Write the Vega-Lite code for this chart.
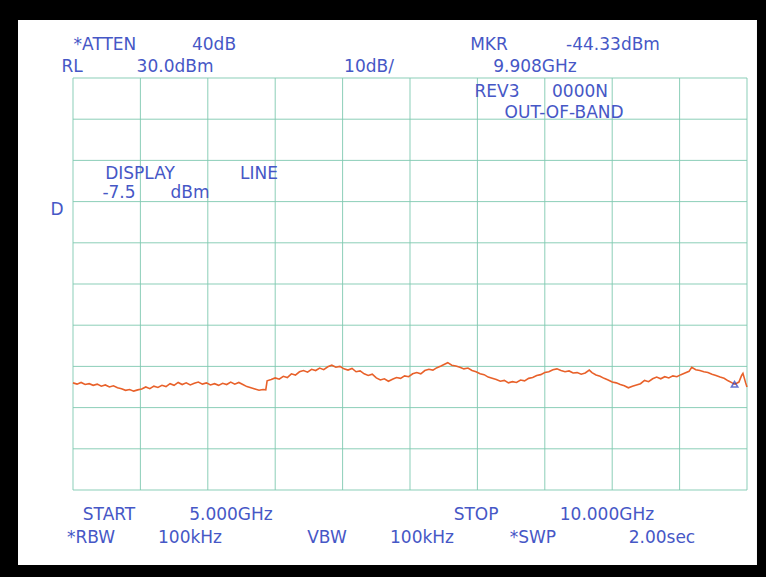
{
  "$schema": "https://vega.github.io/schema/vega-lite/v6.json",
  "width": 674,
  "height": 412,
  "autosize": {"type": "none"},
  "padding": {"left": 73, "top": 78, "right": 19, "bottom": 87},
  "background": "#000000",
  "config": {
    "view": {"stroke": null}
  },
  "datasets": {
    "frame": [{"x1": 4.592, "x2": 10.074, "y1": 44.1, "y2": -88.2}],
    "marker": [{"freq": 9.908, "dbm": -44.33}],
    "labels": [
      {"t": "*ATTEN", "freq": 5.237, "dbm": 38.0},
      {"t": "40dB", "freq": 6.046, "dbm": 38.0},
      {"t": "MKR", "freq": 8.086, "dbm": 38.0},
      {"t": "-44.33dBm", "freq": 9.006, "dbm": 38.0},
      {"t": "RL", "freq": 4.993, "dbm": 32.67},
      {"t": "30.0dBm", "freq": 5.757, "dbm": 32.67},
      {"t": "10dB/", "freq": 7.196, "dbm": 32.67},
      {"t": "9.908GHz", "freq": 8.427, "dbm": 32.67},
      {"t": "REV3", "freq": 8.145, "dbm": 26.6},
      {"t": "0000N", "freq": 8.761, "dbm": 26.6},
      {"t": "OUT-OF-BAND", "freq": 8.643, "dbm": 21.5},
      {"t": "DISPLAY", "freq": 5.497, "dbm": 6.7},
      {"t": "LINE", "freq": 6.38, "dbm": 6.7},
      {"t": "-7.5", "freq": 5.341, "dbm": 2.09},
      {"t": "dBm", "freq": 5.868, "dbm": 2.09},
      {"t": "D", "freq": 4.881, "dbm": -2.04},
      {"t": "START", "freq": 5.267, "dbm": -76.07},
      {"t": "5.000GHz", "freq": 6.172, "dbm": -76.07},
      {"t": "STOP", "freq": 7.99, "dbm": -76.07},
      {"t": "10.000GHz", "freq": 8.961, "dbm": -76.07},
      {"t": "*RBW", "freq": 5.134, "dbm": -81.65},
      {"t": "100kHz", "freq": 5.868, "dbm": -81.65},
      {"t": "VBW", "freq": 6.884, "dbm": -81.65},
      {"t": "100kHz", "freq": 7.589, "dbm": -81.65},
      {"t": "*SWP", "freq": 8.412, "dbm": -81.65},
      {"t": "2.00sec", "freq": 9.369, "dbm": -81.65}
    ],
    "gridx": [{"v": 5}, {"v": 5.5}, {"v": 6}, {"v": 6.5}, {"v": 7}, {"v": 7.5}, {"v": 8}, {"v": 8.5}, {"v": 9}, {"v": 9.5}, {"v": 10}],
    "gridy": [{"v": -70}, {"v": -60}, {"v": -50}, {"v": -40}, {"v": -30}, {"v": -20}, {"v": -10}, {"v": 0}, {"v": 10}, {"v": 20}, {"v": 30}],
    "trace": [
      {"freq": 5.00, "dbm": -44.0}, {"freq": 5.03, "dbm": -44.3}, {"freq": 5.06, "dbm": -43.9}, {"freq": 5.09, "dbm": -44.4},
      {"freq": 5.12, "dbm": -44.2}, {"freq": 5.15, "dbm": -44.6}, {"freq": 5.18, "dbm": -44.3}, {"freq": 5.21, "dbm": -44.8},
      {"freq": 5.24, "dbm": -44.5}, {"freq": 5.27, "dbm": -45.0}, {"freq": 5.30, "dbm": -44.7}, {"freq": 5.33, "dbm": -45.2},
      {"freq": 5.36, "dbm": -45.4}, {"freq": 5.39, "dbm": -45.8}, {"freq": 5.42, "dbm": -45.6}, {"freq": 5.45, "dbm": -46.0},
      {"freq": 5.48, "dbm": -45.7}, {"freq": 5.51, "dbm": -45.5}, {"freq": 5.54, "dbm": -45.0}, {"freq": 5.57, "dbm": -45.4},
      {"freq": 5.60, "dbm": -44.8}, {"freq": 5.63, "dbm": -45.1}, {"freq": 5.66, "dbm": -44.6}, {"freq": 5.69, "dbm": -44.9},
      {"freq": 5.72, "dbm": -44.2}, {"freq": 5.75, "dbm": -44.6}, {"freq": 5.78, "dbm": -43.9}, {"freq": 5.81, "dbm": -44.4},
      {"freq": 5.84, "dbm": -44.0}, {"freq": 5.87, "dbm": -44.5}, {"freq": 5.90, "dbm": -44.1}, {"freq": 5.93, "dbm": -43.8},
      {"freq": 5.96, "dbm": -44.3}, {"freq": 5.99, "dbm": -44.0}, {"freq": 6.02, "dbm": -44.5}, {"freq": 6.05, "dbm": -44.2},
      {"freq": 6.08, "dbm": -44.6}, {"freq": 6.11, "dbm": -44.1}, {"freq": 6.14, "dbm": -44.4}, {"freq": 6.17, "dbm": -43.8},
      {"freq": 6.20, "dbm": -44.3}, {"freq": 6.23, "dbm": -43.9}, {"freq": 6.26, "dbm": -44.4}, {"freq": 6.29, "dbm": -44.9},
      {"freq": 6.32, "dbm": -45.2}, {"freq": 6.35, "dbm": -45.5}, {"freq": 6.38, "dbm": -45.8}, {"freq": 6.41, "dbm": -45.6},
      {"freq": 6.43, "dbm": -45.7}, {"freq": 6.44, "dbm": -43.5}, {"freq": 6.47, "dbm": -43.2}, {"freq": 6.50, "dbm": -42.8},
      {"freq": 6.53, "dbm": -43.1}, {"freq": 6.56, "dbm": -42.4}, {"freq": 6.59, "dbm": -42.7}, {"freq": 6.62, "dbm": -41.8},
      {"freq": 6.65, "dbm": -42.1}, {"freq": 6.68, "dbm": -41.3}, {"freq": 6.71, "dbm": -41.0}, {"freq": 6.74, "dbm": -41.4},
      {"freq": 6.77, "dbm": -40.7}, {"freq": 6.80, "dbm": -41.0}, {"freq": 6.83, "dbm": -40.4}, {"freq": 6.86, "dbm": -40.8},
      {"freq": 6.89, "dbm": -40.1}, {"freq": 6.92, "dbm": -39.7}, {"freq": 6.95, "dbm": -40.2}, {"freq": 6.98, "dbm": -40.0},
      {"freq": 7.01, "dbm": -40.6}, {"freq": 7.04, "dbm": -40.9}, {"freq": 7.07, "dbm": -40.5}, {"freq": 7.10, "dbm": -41.3},
      {"freq": 7.13, "dbm": -41.1}, {"freq": 7.16, "dbm": -41.8}, {"freq": 7.19, "dbm": -42.2}, {"freq": 7.22, "dbm": -41.9},
      {"freq": 7.25, "dbm": -42.8}, {"freq": 7.28, "dbm": -43.3}, {"freq": 7.31, "dbm": -43.0}, {"freq": 7.34, "dbm": -43.6},
      {"freq": 7.37, "dbm": -43.1}, {"freq": 7.40, "dbm": -42.7}, {"freq": 7.43, "dbm": -42.9}, {"freq": 7.46, "dbm": -42.3},
      {"freq": 7.49, "dbm": -42.5}, {"freq": 7.52, "dbm": -41.8}, {"freq": 7.55, "dbm": -41.5}, {"freq": 7.58, "dbm": -41.8},
      {"freq": 7.61, "dbm": -41.0}, {"freq": 7.64, "dbm": -40.7}, {"freq": 7.67, "dbm": -40.9}, {"freq": 7.70, "dbm": -40.3},
      {"freq": 7.73, "dbm": -39.9}, {"freq": 7.76, "dbm": -39.4}, {"freq": 7.78, "dbm": -39.1}, {"freq": 7.81, "dbm": -39.7},
      {"freq": 7.84, "dbm": -39.9}, {"freq": 7.87, "dbm": -40.2}, {"freq": 7.90, "dbm": -40.6}, {"freq": 7.93, "dbm": -40.4},
      {"freq": 7.96, "dbm": -41.0}, {"freq": 7.99, "dbm": -41.3}, {"freq": 8.02, "dbm": -41.8}, {"freq": 8.05, "dbm": -42.0},
      {"freq": 8.08, "dbm": -42.6}, {"freq": 8.11, "dbm": -42.9}, {"freq": 8.14, "dbm": -43.2}, {"freq": 8.17, "dbm": -43.6},
      {"freq": 8.20, "dbm": -43.4}, {"freq": 8.23, "dbm": -44.0}, {"freq": 8.26, "dbm": -43.7}, {"freq": 8.29, "dbm": -43.9},
      {"freq": 8.32, "dbm": -43.3}, {"freq": 8.35, "dbm": -43.5}, {"freq": 8.38, "dbm": -42.9}, {"freq": 8.41, "dbm": -42.7},
      {"freq": 8.44, "dbm": -42.2}, {"freq": 8.47, "dbm": -42.0}, {"freq": 8.50, "dbm": -41.5}, {"freq": 8.53, "dbm": -41.3},
      {"freq": 8.56, "dbm": -40.8}, {"freq": 8.59, "dbm": -40.6}, {"freq": 8.62, "dbm": -41.0}, {"freq": 8.65, "dbm": -41.3},
      {"freq": 8.68, "dbm": -41.1}, {"freq": 8.71, "dbm": -41.6}, {"freq": 8.74, "dbm": -41.5}, {"freq": 8.77, "dbm": -41.9},
      {"freq": 8.80, "dbm": -41.6}, {"freq": 8.83, "dbm": -40.9}, {"freq": 8.85, "dbm": -41.5}, {"freq": 8.88, "dbm": -42.1},
      {"freq": 8.91, "dbm": -42.4}, {"freq": 8.94, "dbm": -42.9}, {"freq": 8.97, "dbm": -43.3}, {"freq": 9.00, "dbm": -43.8},
      {"freq": 9.03, "dbm": -44.0}, {"freq": 9.06, "dbm": -44.4}, {"freq": 9.09, "dbm": -44.7}, {"freq": 9.12, "dbm": -45.2},
      {"freq": 9.15, "dbm": -44.8}, {"freq": 9.18, "dbm": -44.5}, {"freq": 9.21, "dbm": -44.2}, {"freq": 9.24, "dbm": -43.4},
      {"freq": 9.27, "dbm": -43.7}, {"freq": 9.30, "dbm": -43.0}, {"freq": 9.33, "dbm": -42.6}, {"freq": 9.36, "dbm": -43.0},
      {"freq": 9.39, "dbm": -42.5}, {"freq": 9.42, "dbm": -42.8}, {"freq": 9.45, "dbm": -42.3}, {"freq": 9.48, "dbm": -42.5},
      {"freq": 9.51, "dbm": -42.0}, {"freq": 9.54, "dbm": -41.6}, {"freq": 9.57, "dbm": -41.2}, {"freq": 9.59, "dbm": -40.2},
      {"freq": 9.62, "dbm": -40.8}, {"freq": 9.65, "dbm": -41.0}, {"freq": 9.68, "dbm": -41.3}, {"freq": 9.71, "dbm": -41.5},
      {"freq": 9.74, "dbm": -41.9}, {"freq": 9.77, "dbm": -42.2}, {"freq": 9.80, "dbm": -42.6}, {"freq": 9.83, "dbm": -42.9},
      {"freq": 9.86, "dbm": -43.5}, {"freq": 9.89, "dbm": -44.0}, {"freq": 9.91, "dbm": -44.3}, {"freq": 9.94, "dbm": -43.8},
      {"freq": 9.96, "dbm": -42.2}, {"freq": 9.97, "dbm": -41.7}, {"freq": 9.99, "dbm": -44.0}, {"freq": 10.00, "dbm": -45.0}
    ]
  },
  "layer": [
    {
      "data": {"name": "frame"},
      "mark": {"type": "rect", "fill": "#ffffff", "clip": false},
      "encoding": {
        "x": {"field": "x1", "type": "quantitative",
              "scale": {"domain": [5, 10], "nice": false, "zero": false}, "axis": null},
        "x2": {"field": "x2"},
        "y": {"field": "y1", "type": "quantitative",
              "scale": {"domain": [-70, 30], "nice": false, "zero": false}, "axis": null},
        "y2": {"field": "y2"}
      }
    },
    {
      "data": {"name": "gridx"},
      "mark": {"type": "rule", "color": "#7fc9b0", "strokeWidth": 1, "opacity": 0.9},
      "encoding": {
        "x": {"field": "v", "type": "quantitative", "axis": null}
      }
    },
    {
      "data": {"name": "gridy"},
      "mark": {"type": "rule", "color": "#7fc9b0", "strokeWidth": 1, "opacity": 0.9},
      "encoding": {
        "y": {"field": "v", "type": "quantitative", "axis": null}
      }
    },
    {
      "data": {"name": "trace"},
      "mark": {"type": "line", "color": "#e8612a", "strokeWidth": 1.6, "interpolate": "linear"},
      "encoding": {
        "x": {"field": "freq", "type": "quantitative", "axis": null},
        "y": {"field": "dbm", "type": "quantitative", "axis": null}
      }
    },
    {
      "data": {"name": "marker"},
      "mark": {"type": "point", "shape": "triangle-up", "filled": false, "stroke": "#2a3cc0", "strokeWidth": 1.6, "size": 40},
      "encoding": {
        "x": {"field": "freq", "type": "quantitative", "axis": null},
        "y": {"field": "dbm", "type": "quantitative", "axis": null}
      }
    },
    {
      "data": {"name": "labels"},
      "mark": {"type": "text", "font": "DejaVu Sans", "fontSize": 17, "fill": "#4657c6", "align": "center", "baseline": "middle"},
      "encoding": {
        "x": {"field": "freq", "type": "quantitative", "axis": null},
        "y": {"field": "dbm", "type": "quantitative", "axis": null},
        "text": {"field": "t", "type": "nominal"}
      }
    }
  ]
}
